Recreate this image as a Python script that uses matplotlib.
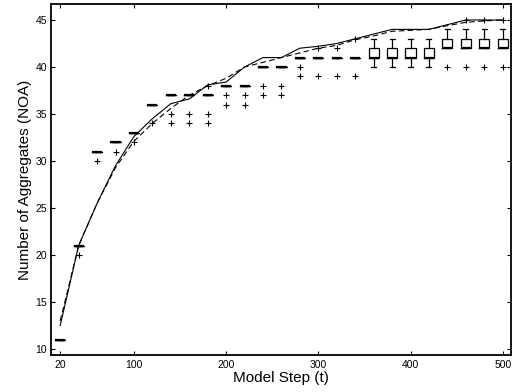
import matplotlib
matplotlib.use("Agg")
import matplotlib.pyplot as plt

plt.rcParams['font.family'] = ['Liberation Sans', 'DejaVu Sans']

# Model steps at which the aggregates were counted
steps = [20, 40, 60, 80, 100, 120, 140, 160, 180, 200, 220, 240, 260,
         280, 300, 320, 340, 360, 380, 400, 420, 440, 460, 480, 500]

# Box statistics per step
q1 = [11, 21, 31, 32, 33, 36, 37, 37, 37, 38, 38, 40, 40,
      41, 41, 41, 41, 41, 41, 41, 41, 42, 42, 42, 42]
med = [11, 21, 31, 32, 33, 36, 37, 37, 37, 38, 38, 40, 40,
       41, 41, 41, 41, 41, 41, 41, 41, 42, 42, 42, 42]
q3 = [11, 21, 31, 32, 33, 36, 37, 37, 37, 38, 38, 40, 40,
      41, 41, 41, 41, 42, 42, 42, 42, 43, 43, 43, 43]
whislo = [11, 21, 31, 32, 33, 36, 37, 37, 37, 38, 38, 40, 40,
          41, 41, 41, 41, 40, 40, 40, 40, 42, 42, 42, 42]
whishi = [11, 21, 31, 32, 33, 36, 37, 37, 37, 38, 38, 40, 40,
          41, 41, 41, 41, 43, 43, 43, 43, 44, 44, 44, 44]
outliers = [[], [20], [30], [31], [32], [34], [35, 34], [35, 34],
            [38, 35, 34], [37, 36], [37, 36], [38, 37], [38, 37],
            [40, 39], [42, 39], [42, 39], [43, 39],
            [], [], [], [], [40], [45, 40], [45, 40], [45, 40]]

# Two average curves
solid_curve = [12.5, 21, 25.5, 29.5, 32.6, 34.5, 36.1, 36.6, 38.1, 38.4,
               40.0, 41.0, 41.0, 42.0, 42.2, 42.5, 43.0, 43.5, 44.0, 44.0,
               44.0, 44.5, 45.0, 45.0, 45.0]
dashed_curve = [13.0, 21, 25.5, 29.3, 32.1, 34.0, 35.6, 37.0, 38.0, 38.8,
                40.0, 40.5, 41.0, 41.5, 42.0, 42.3, 42.9, 43.3, 43.8, 43.9,
                44.0, 44.4, 44.75, 44.9, 45.0]

xticks = [20, 100, 200, 300, 400, 500]
yticks = [10, 15, 20, 25, 30, 35, 40, 45]

fig = plt.figure(figsize=(5.13, 3.92), dpi=100)
ax = fig.add_axes([51 / 513, 1 - 355 / 392, 460 / 513, 351 / 392])

stats = []
for i in range(len(steps)):
    stats.append(dict(q1=q1[i], med=med[i], q3=q3[i], whislo=whislo[i],
                      whishi=whishi[i], fliers=outliers[i]))

ax.bxp(stats, positions=steps, widths=11, capwidths=5.5, manage_ticks=False,
       boxprops=dict(color='black', linewidth=0.9),
       medianprops=dict(color='black', linewidth=1.6),
       whiskerprops=dict(color='black', linewidth=0.9),
       capprops=dict(color='black', linewidth=0.9),
       flierprops=dict(marker='+', markeredgecolor='black', markersize=5,
                       markeredgewidth=0.8, linestyle='none'))

ax.plot(steps, solid_curve, color='black', linewidth=0.8)
ax.plot(steps, dashed_curve, color='black', linewidth=0.8, dashes=(5, 3))

ax.set_xlim(10, 509)
ax.set_ylim(9.36, 46.7)
ax.set_xticks(xticks)
ax.set_yticks(yticks)
ax.tick_params(direction='in', top=True, right=True, length=3, width=0.8,
               labelsize=7.5)
ax.tick_params(axis='x', pad=3.5)
ax.tick_params(axis='y', pad=3)
for s in ax.spines.values():
    s.set_linewidth(1.3)

ax.set_xlabel('Model Step (t)', fontsize=11, labelpad=0.5)
ax.set_ylabel('Number of Aggregates (NOA)', fontsize=11, labelpad=2)

fig.savefig('out.png', dpi=100)
